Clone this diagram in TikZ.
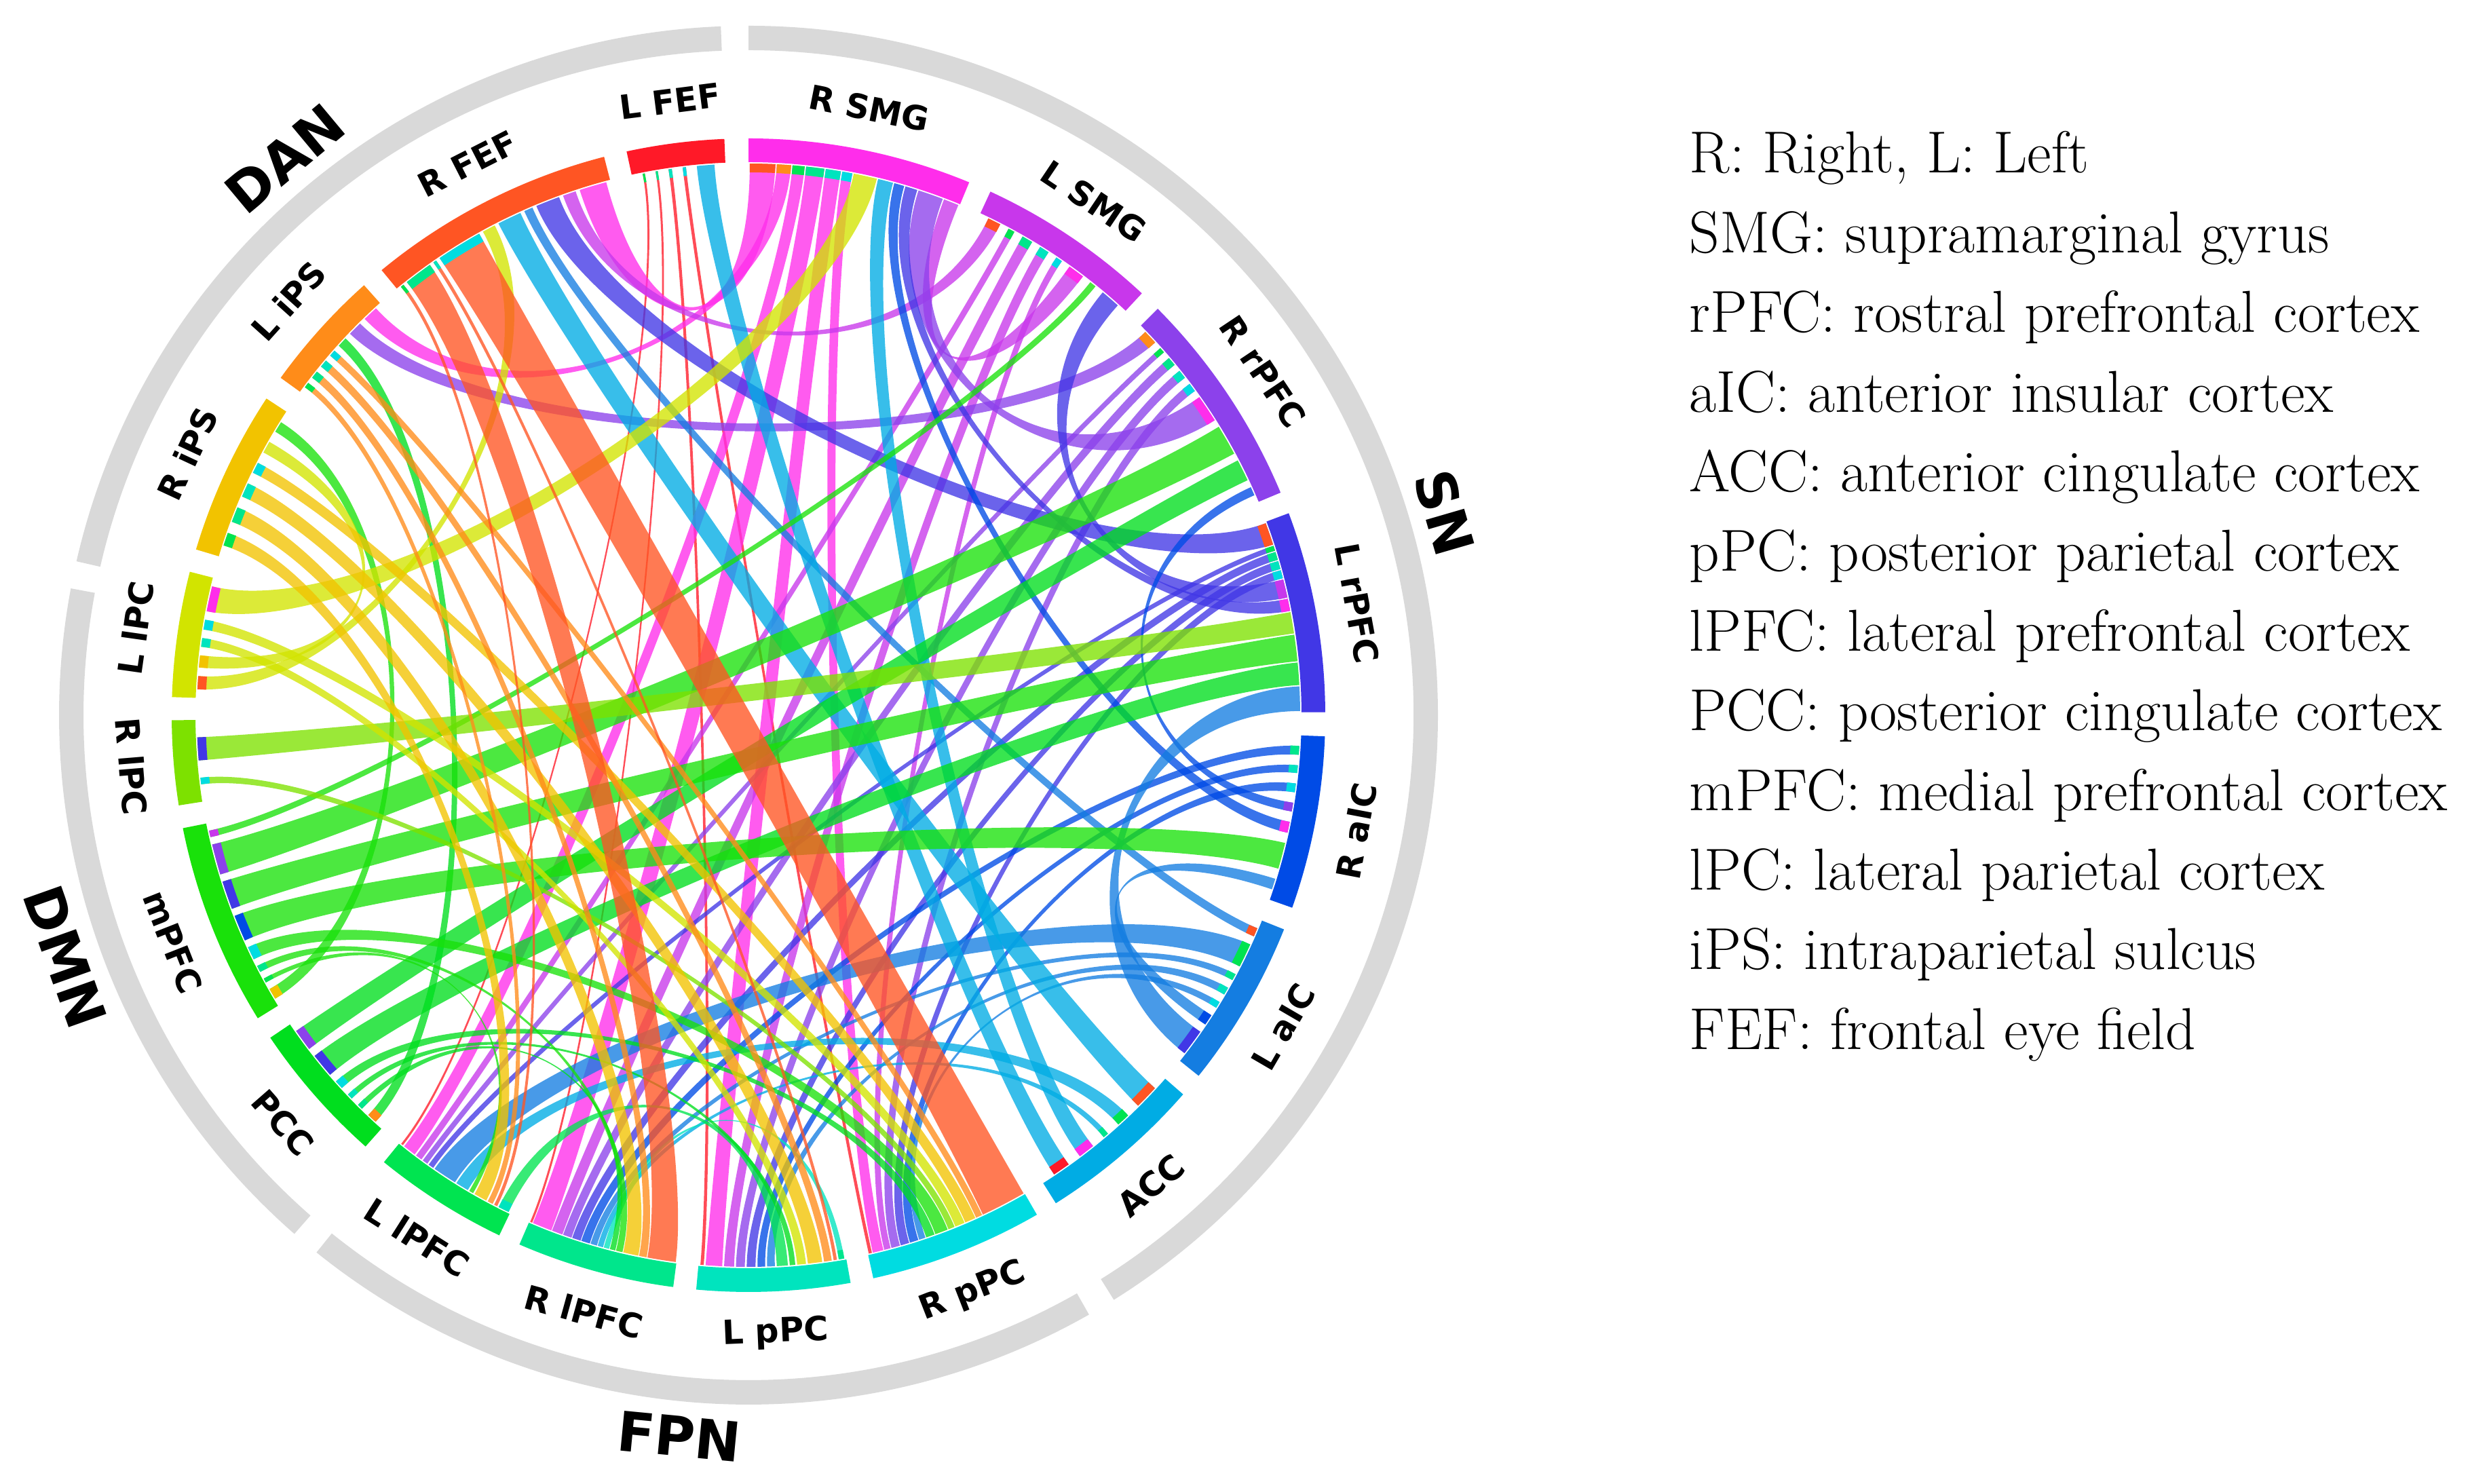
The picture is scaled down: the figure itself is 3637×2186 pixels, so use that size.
\documentclass[tikz,border=0pt]{standalone}
\usepackage{fontspec}
\setsansfont{DejaVu Sans}
\usepackage{tikz}

% colours of the 19 regions, clockwise from L FEF
\definecolor{seg1}{RGB}{255,25,40}
\definecolor{seg2}{RGB}{255,45,235}
\definecolor{seg3}{RGB}{200,55,235}
\definecolor{seg4}{RGB}{140,65,235}
\definecolor{seg5}{RGB}{65,55,230}
\definecolor{seg6}{RGB}{0,75,230}
\definecolor{seg7}{RGB}{20,125,225}
\definecolor{seg8}{RGB}{0,172,228}
\definecolor{seg9}{RGB}{0,220,225}
\definecolor{seg10}{RGB}{0,228,190}
\definecolor{seg11}{RGB}{0,230,140}
\definecolor{seg12}{RGB}{0,228,80}
\definecolor{seg13}{RGB}{0,222,30}
\definecolor{seg14}{RGB}{25,225,10}
\definecolor{seg15}{RGB}{125,225,0}
\definecolor{seg16}{RGB}{210,228,0}
\definecolor{seg17}{RGB}{242,195,0}
\definecolor{seg18}{RGB}{255,140,25}
\definecolor{seg19}{RGB}{255,85,35}
\definecolor{netgrey}{RGB}{217,217,217}

\tikzset{
  regionlabel/.style={font=\sffamily\bfseries\fontsize{14}{16}\selectfont},
  netlabel/.style={font=\sffamily\bfseries\fontsize{23}{26}\selectfont},
  legendline/.style={anchor=base west,inner sep=0pt,font=\fontsize{24.8}{28}\selectfont},
}

% regions: index/from/to (degrees)/label
\def\regions{1/92.4/102.2/L FEF, 2/67.5/90.0/R SMG, 3/47.0/65.2/L SMG,
  4/22.7/44.8/R rPFC, 5/0.3/20.5/L rPFC, 6/-19.5/-2.1/R aIC,
  7/-38.7/-21.8/L aIC, 8/-57.8/-41.1/ACC, 9/-77.5/-60.0/R pPC,
  10/-95.2/-79.8/L pPC, 11/-113.4/-97.5/R lPFC, 12/-129.2/-115.6/L lPFC,
  13/-146.0/-131.6/PCC, 14/-168.7/-148.3/mPFC, 15/180.5/189.0/R lPC,
  16/165.6/178.2/L lPC, 17/146.7/163.3/R iPS, 18/131.8/144.2/L iPS,
  19/104.5/129.5/R FEF}
% links: source/target/width (degrees)
\def\links{1/9/0.3, 1/10/0.3, 1/11/0.2, 1/12/0.2,
  2/9/1.0, 2/10/1.5, 2/11/1.8, 2/12/1.2, 2/18/1.4, 2/19/2.5,
  3/2/1.5, 3/9/0.6, 3/10/0.9, 3/11/1.0, 3/12/0.6, 3/19/1.2,
  4/2/2.5, 4/9/0.8, 4/10/0.8, 4/11/0.8, 4/12/0.5, 4/18/1.3,
  5/2/1.2, 5/3/1.8, 5/9/0.8, 5/10/0.8, 5/11/0.8, 5/12/0.5, 5/19/2.2,
  6/2/1.0, 6/4/0.8, 6/9/0.8, 6/10/0.7, 6/11/0.8,
  7/5/2.4, 7/6/1.0, 7/9/0.6, 7/10/0.7, 7/11/0.6, 7/12/2.2, 7/19/0.8,
  8/1/1.6, 8/2/1.5, 8/11/0.5, 8/12/1.2, 8/19/2.2,
  10/11/0.5, 12/10/1.0,
  13/4/2.0, 13/5/2.2, 13/9/0.8, 13/10/0.5, 13/11/0.5, 13/18/0.9,
  14/3/0.6, 14/4/2.8, 14/5/2.6, 14/6/2.4, 14/9/1.2, 14/11/0.6, 14/12/0.4, 14/17/1.0,
  15/5/2.1, 15/9/0.6,
  16/2/2.3, 16/9/0.9, 16/10/0.8, 16/17/1.1, 16/19/1.2,
  17/9/1.0, 17/10/1.3, 17/11/1.4, 17/12/1.2,
  18/9/0.6, 18/10/0.7, 18/11/0.7, 18/12/0.5,
  19/9/4.2, 19/10/0.3, 19/11/2.6, 19/12/0.3}

\begin{document}
\begin{tikzpicture}[x=0.1mm,y=0.1mm]
  \useasboundingbox (0,0) rectangle (3637,2186);
  % store regions and link weights
  \foreach \k/\lo/\hi/\nm in \regions{
    \expandafter\xdef\csname lo\k\endcsname{\lo}
    \expandafter\xdef\csname hi\k\endcsname{\hi}}
  \foreach \src/\tgt/\wt in \links{
    \expandafter\xdef\csname W@\src @\tgt\endcsname{\wt}}
  % place link ends in each region: incoming first, then outgoing
  \foreach \ii in {1,...,19}{
    \gdef\tot{0}\gdef\cnt{0}
    \foreach \jj in {1,...,19}{
      \ifcsname W@\jj @\ii\endcsname
        \pgfmathsetmacro\tmp{\tot+\csname W@\jj @\ii\endcsname}\xdef\tot{\tmp}
        \pgfmathtruncatemacro\tmp{\cnt+1}\xdef\cnt{\tmp}\fi
      \ifcsname W@\ii @\jj\endcsname
        \pgfmathsetmacro\tmp{\tot+\csname W@\ii @\jj\endcsname}\xdef\tot{\tmp}
        \pgfmathtruncatemacro\tmp{\cnt+1}\xdef\cnt{\tmp}\fi}
    \pgfmathsetmacro\segspan{\csname hi\ii\endcsname-\csname lo\ii\endcsname}
    \pgfmathsetmacro\fac{min(1.15,0.92*\segspan/\tot)}
    \pgfmathsetmacro\sgap{(\segspan-\fac*\tot)/(\cnt+1)}
    \pgfmathsetmacro\tmp{\csname lo\ii\endcsname+\sgap}\xdef\cur{\tmp}
    \foreach \jj in {1,...,19}{
      \ifcsname W@\jj @\ii\endcsname
        \expandafter\xdef\csname in@\ii @\jj\endcsname{\cur}
        \pgfmathsetmacro\tmp{\fac*\csname W@\jj @\ii\endcsname}
        \expandafter\xdef\csname inw@\ii @\jj\endcsname{\tmp}
        \pgfmathsetmacro\tmp{\cur+\tmp+\sgap}\xdef\cur{\tmp}\fi}
    \foreach \jj in {1,...,19}{
      \ifcsname W@\ii @\jj\endcsname
        \expandafter\xdef\csname out@\ii @\jj\endcsname{\cur}
        \pgfmathsetmacro\tmp{\fac*\csname W@\ii @\jj\endcsname}
        \expandafter\xdef\csname outw@\ii @\jj\endcsname{\tmp}
        \pgfmathsetmacro\tmp{\cur+\tmp+\sgap}\xdef\cur{\tmp}\fi}
  }
  \begin{scope}[shift={(1103,1132)}]
    % network rings
    \foreach \lo/\hi in {92.3/167.1, -58.0/90.0, -128.8/-60.4, 169.4/228.8}
      \fill[netgrey] (\lo:980) arc[start angle=\lo,end angle=\hi,radius=980]
        -- (\hi:1016) arc[start angle=\hi,end angle=\lo,radius=1016] -- cycle;
    % ribbons, coloured by source, with a target-coloured tick at the source end
    \foreach \src/\tgt/\wt in \links{
      \pgfmathsetmacro\pa{\csname out@\src @\tgt\endcsname}
      \pgfmathsetmacro\pb{\pa+\csname outw@\src @\tgt\endcsname}
      \pgfmathsetmacro\qa{\csname in@\tgt @\src\endcsname}
      \pgfmathsetmacro\qb{\qa+\csname inw@\tgt @\src\endcsname}
      \fill[seg\src,opacity=.78] (\pa:813) arc[start angle=\pa,end angle=\pb,radius=813]
        .. controls (\pb:545) and (\qa:545) .. (\qa:813)
        arc[start angle=\qa,end angle=\qb,radius=813]
        .. controls (\qb:545) and (\pa:545) .. (\pa:813) -- cycle;
      \fill[seg\tgt] (\pa:800) arc[start angle=\pa,end angle=\pb,radius=800]
        -- (\pb:813) arc[start angle=\pb,end angle=\pa,radius=813] -- cycle;
    }
    % region arcs and their labels
    \foreach \k/\lo/\hi/\nm in \regions{
      \fill[seg\k] (\lo:815) arc[start angle=\lo,end angle=\hi,radius=815]
        -- (\hi:850) arc[start angle=\hi,end angle=\lo,radius=850] -- cycle;
      \pgfmathsetmacro\mida{(\lo+\hi)/2}
      \pgfmathsetmacro\rot{ifthenelse(sin(\mida)>=0,\mida-90,\mida+90)}
      \node[regionlabel,rotate=\rot] (reg\k) at (\mida:912) {\nm};
    }
    % network names
    \foreach \nm/\ang in {DAN/129.8, SN/16.2, FPN/-95.5, DMN/-160.5}{
      \pgfmathsetmacro\rot{ifthenelse(sin(\ang)>=0,\ang-90,\ang+90)}
      \node[netlabel,rotate=\rot] (net\nm) at (\ang:1068) {\nm};
    }
  \end{scope}
  % abbreviations
  \foreach \txt [count=\n] in {{R: Right, L: Left}, {SMG: supramarginal gyrus},
      {rPFC: rostral prefrontal cortex}, {aIC: anterior insular cortex},
      {ACC: anterior cingulate cortex}, {pPC: posterior parietal cortex},
      {lPFC: lateral prefrontal cortex}, {PCC: posterior cingulate cortex},
      {mPFC: medial prefrontal cortex}, {lPC: lateral parietal cortex},
      {iPS: intraparietal sulcus}, {FEF: frontal eye field}}
    \node[legendline] (leg\n) at (2489,{1931-117.4*(\n-1)}) {\txt};
\end{tikzpicture}
\end{document}
